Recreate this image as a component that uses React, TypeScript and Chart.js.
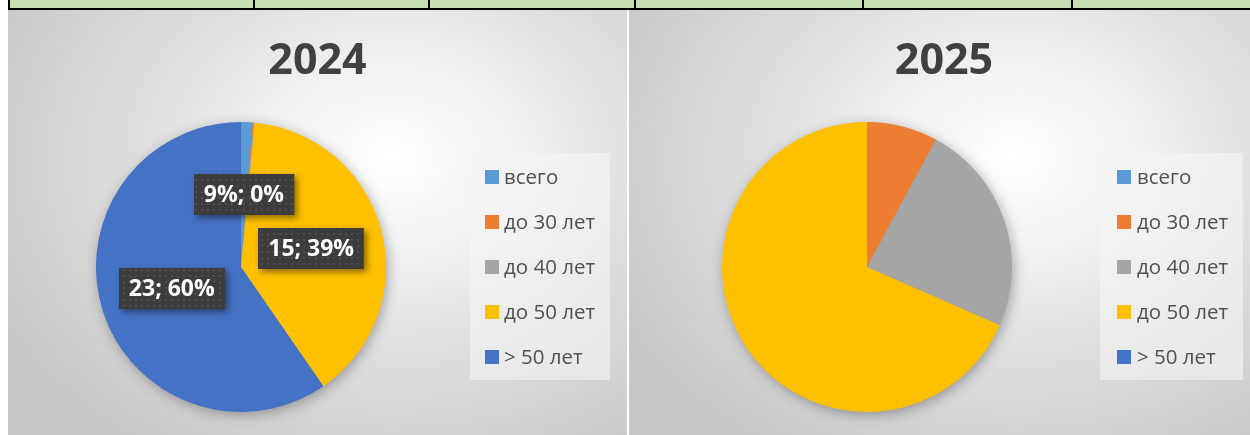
import React, { useEffect, useRef } from "react";
import { Chart, registerables } from "chart.js";

Chart.register(...registerables);

const categories = ["всего", "до 30 лет", "до 40 лет", "до 50 лет", "> 50 лет"];
const sliceColors = ["#5B9BD5", "#ED7D31", "#A5A5A5", "#FFC000", "#4472C4"];
const values2024 = [0.5, 0.04, 0.04, 15, 23];
const values2025 = [0, 3, 9, 26, 0];
const dataLabels2024 = ["9%; 0%", "", "", "15; 39%", "23; 60%"];
const dataLabels2025 = ["", "", "", "", ""];
const tableColumnEdges = [8, 253, 428, 634, 862, 1071];

const FONT = "'Open Sans', 'Noto Sans', 'DejaVu Sans', sans-serif";

type PanelProps = {
  left: number;
  top: number;
  width: number;
  height: number;
  title: string;
  titleX: number;
  values: number[];
  dataLabels: string[];
  padding: { left: number; right: number; top: number; bottom: number };
  legendBox: { x: number; y: number; w: number; h: number };
  legendSquareX: number;
  legendTextX: number;
};

function makePattern(ctx: CanvasRenderingContext2D) {
  const c = document.createElement("canvas");
  c.width = 6;
  c.height = 6;
  const p = c.getContext("2d")!;
  p.fillStyle = "#3c3c3c";
  p.fillRect(0, 0, 6, 6);
  p.fillStyle = "#4f4f4f";
  p.fillRect(1, 1, 2, 2);
  return ctx.createPattern(c, "repeat");
}

function PiePanel(props: PanelProps) {
  const ref = useRef<HTMLCanvasElement | null>(null);

  useEffect(() => {
    const canvas = ref.current!;
    const decor = {
      id: "decor",
      beforeDatasetsDraw(chart: any) {
        const meta = chart.getDatasetMeta(0);
        const arc = meta.data.find((a: any) => a) as any;
        if (!arc) return;
        const ctx = chart.ctx as CanvasRenderingContext2D;
        ctx.save();
        ctx.shadowColor = "rgba(0,0,0,0.35)";
        ctx.shadowBlur = 14;
        ctx.shadowOffsetX = 2;
        ctx.shadowOffsetY = 3;
        ctx.fillStyle = "#999999";
        ctx.beginPath();
        ctx.arc(arc.x, arc.y, arc.outerRadius - 1, 0, Math.PI * 2);
        ctx.fill();
        ctx.restore();
      },
      afterDatasetsDraw(chart: any) {
        const ctx = chart.ctx as CanvasRenderingContext2D;
        const meta = chart.getDatasetMeta(0);
        const pattern = makePattern(ctx);
        ctx.save();
        ctx.font = `bold 23px ${FONT}`;
        ctx.textAlign = "center";
        ctx.textBaseline = "middle";
        props.dataLabels.forEach((txt, i) => {
          if (!txt) return;
          const el = meta.data[i];
          const pt = el.getCenterPoint();
          const tw = ctx.measureText(txt).width;
          const bw = tw + 20;
          const bh = 41;
          const bx = Math.round(pt.x - bw / 2);
          const by = Math.round(pt.y - bh / 2);
          ctx.save();
          ctx.shadowColor = "rgba(0,0,0,0.45)";
          ctx.shadowBlur = 6;
          ctx.shadowOffsetX = 3;
          ctx.shadowOffsetY = 3;
          ctx.fillStyle = pattern || "#3c3c3c";
          ctx.fillRect(bx, by, bw, bh);
          ctx.restore();
          ctx.fillStyle = "#ffffff";
          ctx.fillText(txt, pt.x, pt.y + 1);
        });
        ctx.restore();
      },
      afterDraw(chart: any) {
        const ctx = chart.ctx as CanvasRenderingContext2D;
        ctx.save();
        ctx.font = `bold 43px ${FONT}`;
        ctx.fillStyle = "#404040";
        ctx.textAlign = "center";
        ctx.textBaseline = "middle";
        ctx.fillText(props.title, props.titleX, 52);
        const lb = props.legendBox;
        ctx.fillStyle = "rgba(245,245,245,0.6)";
        ctx.fillRect(lb.x, lb.y, lb.w, lb.h);
        ctx.font = `20.5px ${FONT}`;
        ctx.textAlign = "left";
        const labels: string[] = chart.data.labels;
        const colors: string[] = chart.data.datasets[0].backgroundColor;
        labels.forEach((lab, i) => {
          const cy = 167 + i * 45;
          ctx.fillStyle = colors[i];
          ctx.fillRect(props.legendSquareX, cy - 7, 14, 14);
          ctx.fillStyle = "#505050";
          ctx.fillText(lab, props.legendTextX, cy + 1);
        });
        ctx.restore();
      },
    };

    const chart = new Chart(canvas, {
      type: "pie",
      data: {
        labels: categories,
        datasets: [
          {
            data: props.values,
            backgroundColor: sliceColors,
            borderWidth: 0,
          },
        ],
      },
      options: {
        animation: false,
        responsive: false,
        devicePixelRatio: 1,
        layout: { padding: props.padding },
        plugins: {
          legend: { display: false },
          title: { display: false },
          tooltip: { enabled: false },
        },
      },
      plugins: [decor as any],
    });
    return () => chart.destroy();
  }, []);

  return (
    <div
      style={{
        position: "absolute",
        left: props.left,
        top: props.top,
        width: props.width,
        height: props.height,
        background:
          "radial-gradient(ellipse 75% 85% at 62% 35%, #ffffff 0%, #f4f4f4 22%, #dedede 55%, #c6c6c6 100%)",
      }}
    >
      <canvas ref={ref} width={props.width} height={props.height} style={{ display: "block" }} />
    </div>
  );
}

export default function App() {
  useEffect(() => {
    document.body.style.margin = "0";
  }, []);

  return (
    <div style={{ position: "relative", width: 1250, height: 435, background: "#ffffff", overflow: "hidden" }}>
      <div style={{ position: "absolute", left: 8, top: 0, width: 1242, height: 8, background: "#C6E0B4" }} />
      <div style={{ position: "absolute", left: 8, top: 8, width: 1242, height: 2, background: "#000" }} />
      {tableColumnEdges.map((x) => (
        <div key={x} style={{ position: "absolute", left: x, top: 0, width: 2, height: 10, background: "#000" }} />
      ))}
      <PiePanel
        left={8}
        top={10}
        width={619}
        height={425}
        title="2024"
        titleX={309.5}
        values={values2024}
        dataLabels={dataLabels2024}
        padding={{ left: 88, right: 241, top: 112, bottom: 23 }}
        legendBox={{ x: 462, y: 143, w: 140, h: 227 }}
        legendSquareX={477}
        legendTextX={496}
      />
      <PiePanel
        left={629}
        top={10}
        width={621}
        height={425}
        title="2025"
        titleX={315}
        values={values2025}
        dataLabels={dataLabels2025}
        padding={{ left: 93, right: 238, top: 112, bottom: 23 }}
        legendBox={{ x: 471, y: 143, w: 143, h: 227 }}
        legendSquareX={488}
        legendTextX={508}
      />
    </div>
  );
}
